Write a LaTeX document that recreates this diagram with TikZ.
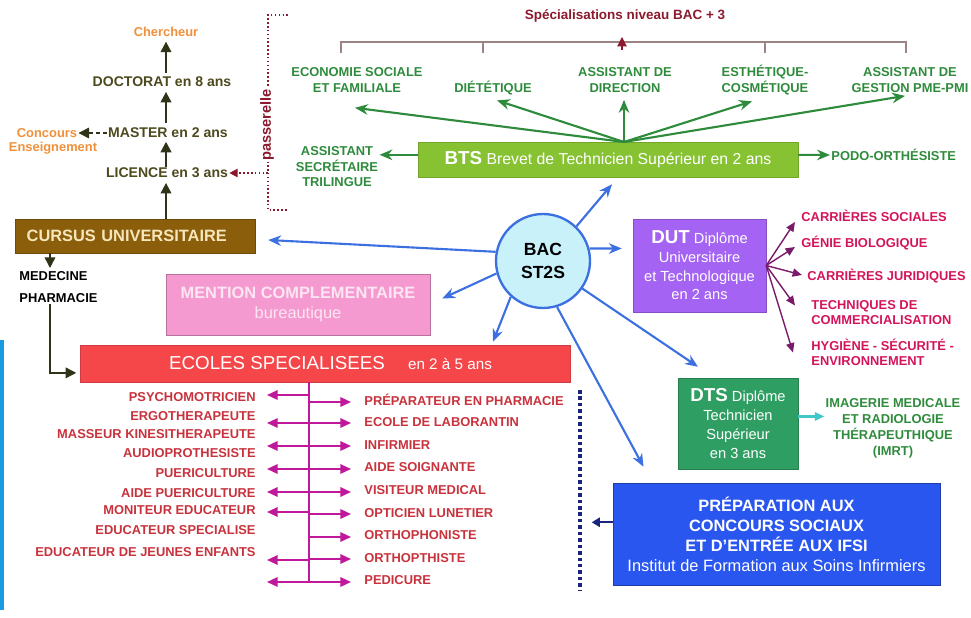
\documentclass[tikz,border=0pt]{standalone}
\usepackage{fontspec}
\setmainfont{Liberation Sans}
\usetikzlibrary{arrows.meta, positioning}
\definecolor{olivetxt}{HTML}{4D4A1E}
\definecolor{olivedark}{HTML}{2F3318}
\definecolor{orangetxt}{HTML}{F0903A}
\definecolor{darkred}{HTML}{8B1A2E}
\definecolor{brkgray}{HTML}{9C8484}
\definecolor{spgreen}{HTML}{2E8B3C}
\definecolor{btsgreen}{HTML}{86C232}
\definecolor{cursbrown}{HTML}{8B5E0B}
\definecolor{cursfont}{HTML}{F7E6BC}
\definecolor{mcpink}{HTML}{F59AD0}
\definecolor{mcfont}{HTML}{FCE6F2}
\definecolor{ecred}{HTML}{F5474A}
\definecolor{ecmag}{HTML}{C0189A}
\definecolor{ectxt}{HTML}{C8323C}
\definecolor{dutpurple}{HTML}{A463F2}
\definecolor{dutdark}{HTML}{7A1A6A}
\definecolor{duttxt}{HTML}{D4145A}
\definecolor{dtsgreen}{HTML}{2E9E62}
\definecolor{dtscyan}{HTML}{40C8C8}
\definecolor{prepblue}{HTML}{2A56F0}
\definecolor{bacfill}{HTML}{C9F1FA}
\definecolor{bacblue}{HTML}{3C6FE0}
\definecolor{navyblue}{HTML}{1A237E}
\definecolor{stripe}{HTML}{1A9BE0}
\tikzset{
  olivetext/.style={text=olivetxt, font=\bfseries\fontsize{12}{14}\selectfont, inner sep=1pt},
  orangetext/.style={text=orangetxt, font=\bfseries\fontsize{11}{13}\selectfont, inner sep=1pt},
  spec/.style={text=spgreen, font=\bfseries\fontsize{11}{13.5}\selectfont, align=center, inner sep=1pt},
  dutitem/.style={text=duttxt, font=\bfseries\fontsize{11}{13}\selectfont, align=left, anchor=west, inner sep=1pt},
  ecitem/.style={text=ectxt, font=\bfseries\fontsize{11}{13}\selectfont, inner sep=1pt},
  cursbox/.style={
    rectangle, draw=cursbrown!80!black, fill=cursbrown, text=cursfont,
    font=\bfseries\fontsize{14}{16}\selectfont, minimum height=1.02cm,
    inner xsep=0.35cm, text width=6.5cm, align=left
  },
  mcbox/.style={
    rectangle, draw=mcpink!75!black, fill=mcpink, text=mcfont,
    font=\fontsize{14}{17}\selectfont, minimum width=7.92cm, minimum height=1.83cm, align=center
  },
  ecbox/.style={
    rectangle, draw=ecred!85!black, fill=ecred, minimum width=14.7cm, minimum height=1.11cm
  },
  btsbox/.style={
    rectangle, draw=btsgreen!85!black, fill=btsgreen, text=white,
    font=\fontsize{13.5}{16}\selectfont, minimum width=11.4cm, minimum height=1.05cm
  },
  dutbox/.style={
    rectangle, draw=dutpurple!80!black, fill=dutpurple, text=white,
    font=\fontsize{12.5}{16}\selectfont, minimum width=3.99cm, minimum height=2.79cm, align=center
  },
  dtsbox/.style={
    rectangle, draw=dtsgreen!80!black, fill=dtsgreen, text=white,
    font=\fontsize{12.5}{16}\selectfont, minimum width=3.6cm, minimum height=2.73cm, align=center
  },
  prepbox/.style={
    rectangle, draw=prepblue!70!black, fill=prepblue, text=white,
    font=\fontsize{14}{17}\selectfont, minimum width=9.81cm, minimum height=3.06cm, align=center
  },
  bacnode/.style={
    circle, draw=bacblue, line width=2pt, fill=bacfill, minimum size=2.82cm,
    font=\bfseries\fontsize{15}{19}\selectfont, align=center, inner sep=0pt
  },
  bluearr/.style={-{Stealth[length=11pt,width=9pt]}, line width=1.8pt, color=bacblue},
  greenarr/.style={-{Stealth[length=11pt,width=9pt]}, line width=1.8pt, color=spgreen},
  olivearr/.style={-{Triangle[length=9pt,width=9pt]}, line width=1.8pt, color=olivedark},
  magarr/.style={-{Triangle[length=9pt,width=8pt]}, line width=1.5pt, color=ecmag},
  dutarr/.style={-{Triangle[length=8pt,width=7pt]}, line width=1.2pt, color=dutdark},
  cyanarr/.style={-{Triangle[length=8pt,width=7pt]}, line width=1.8pt, color=dtscyan}
}
\begin{document}
\begin{tikzpicture}[x=0.03cm, y=-0.03cm]
\useasboundingbox (0,0) rectangle (971,618);
\fill[stripe] (0,340) rectangle (4,610);

% cursus universitaire
\node[orangetext] (cherch) at (166,32) {Chercheur};
\node[olivetext] (doct) at (162,82) {DOCTORAT en 8 ans};
\node[olivetext] (mast) at (168,133) {MASTER en 2 ans};
\node[olivetext] (lic) at (167,173) {LICENCE en 3 ans};
\node[orangetext] (conc1) at (47,133) {Concours};
\node[orangetext] (conc2) at (53,148) {Enseignement};
\node[cursbox] (cursus) at (135,236) {CURSUS UNIVERSITAIRE};
\node[olivetext, text=black, font=\bfseries\fontsize{11}{19}\selectfont, align=left, anchor=west] (med) at (18,287) {MEDECINE\\PHARMACIE};
\draw[olivearr, shorten <=2pt, shorten >=3pt] (doct.north -| cherch) -- (cherch.south);
\draw[olivearr, shorten <=3pt, shorten >=3pt] (mast.north -| cherch) -- (doct.south -| cherch);
\draw[olivearr, shorten >=2pt] (lic.north -| cherch) -- (mast.south -| cherch);
\draw[olivearr, shorten >=3pt] (cursus.north -| cherch) -- (lic.south -| cherch);
\draw[olivearr, dashed, line width=1.3pt] (mast.west) -- (mast.west -| conc1.east);
\coordinate (medtop) at (50,253);
\draw[olivearr, line width=1.3pt] (medtop) -- ++(0,15);

% passerelle
\coordinate (pastop) at (268,15);
\coordinate (pasbot) at (268,210);
\draw[darkred, dotted, line width=1.3pt] ([xshift=17pt]pastop) -- (pastop) -- (pasbot) -- ([xshift=17pt]pasbot);
\node[rotate=90, fill=white, text=darkred, font=\bfseries\fontsize{12.5}{13}\selectfont, inner sep=1pt] (pass) at (267,125) {passerelle};
\draw[darkred, dotted, line width=1.3pt, -{Triangle[length=7pt,width=7pt]}] (lic.east -| pastop) -- (lic.east);

% specialisations BTS
\node[font=\bfseries\fontsize{11.5}{13}\selectfont, text=darkred] (spectitle) at (625,16) {Spécialisations niveau BAC + 3};
\draw[brkgray, line width=1pt] (341,53) -- (341,42) -- (906,42) -- (906,53);
\foreach \x in {483,765} \draw[brkgray, line width=1pt] (\x,42) -- (\x,53);
\draw[darkred, line width=1pt, -{Triangle[length=8pt,width=8pt]}] (622,50) -- (622,37);
\node[spec] (eco) at (357,80) {ECONOMIE SOCIALE\\ET FAMILIALE};
\node[spec] (diet) at (493,88) {DIÉTÉTIQUE};
\node[spec] (dir) at (625,80) {ASSISTANT DE\\DIRECTION};
\node[spec] (esth) at (765,80) {ESTHÉTIQUE-\\COSMÉTIQUE};
\node[spec] (gest) at (910,80) {ASSISTANT DE\\GESTION PME-PMI};
\node[spec, font=\bfseries\fontsize{11}{13.2}\selectfont] (sec) at (337,167) {ASSISTANT\\SECRÉTAIRE\\TRILINGUE};
\node[spec, anchor=west] (podo) at (830,155) {PODO-ORTHÉSISTE};
\node[btsbox] (bts) at (608,159.5) {{\bfseries\fontsize{16}{16}\selectfont BTS} Brevet de Technicien Supérieur en 2 ans};
\coordinate (btstop) at (624,142);
\draw[greenarr] (btstop) -- ([shift={(-2,14)}]eco.south);
\draw[greenarr] (btstop) -- ([shift={(4,4)}]diet.south);
\draw[greenarr] (btstop) -- ([shift={(-1,6)}]dir.south);
\draw[greenarr] (btstop) -- ([shift={(-13,5)}]esth.south);
\draw[greenarr] (btstop) -- ([shift={(-5,2)}]gest.south);
\draw[greenarr] ([yshift=4pt]bts.west) -- ([yshift=4pt]bts.west -| sec.east);
\draw[greenarr] ([yshift=4pt]bts.east) -- (podo.west);

% bac
\node[bacnode] (bac) at (543,261) {BAC\\ST2S};
\node[mcbox] (mc) at (298,304.5) {\textbf{MENTION COMPLEMENTAIRE}\\bureautique};
\node[ecbox] (ecbox) at (325,363.5) {};
\node[text=white, font=\fontsize{16}{18}\selectfont, inner sep=0pt] (ectitle) at (277,363) {ECOLES SPECIALISEES};
\node[text=white, font=\fontsize{13}{15}\selectfont, inner sep=0pt] (ecyrs) at (450,364) {en 2 à 5 ans};
\draw[olivearr, line width=1.3pt, shorten >=3pt] (med.south -| medtop) |- ([yshift=-8pt]ecbox.west);
\node[dutbox] (dut) at (699.5,265.5) {{\bfseries\fontsize{16}{16}\selectfont DUT} Diplôme\\Universitaire\\et Technologique\\en 2 ans};
\node[dtsbox] (dts) at (738,423.5) {{\bfseries\fontsize{16}{16}\selectfont DTS} Diplôme\\Technicien\\Supérieur\\en 3 ans};
\node[prepbox] (prep) at (776.5,534) {\textbf{PRÉPARATION AUX}\\\textbf{CONCOURS SOCIAUX}\\\textbf{ET D’ENTRÉE AUX IFSI}\\Institut de Formation aux Soins Infirmiers};
\draw[bluearr] (bac.46) -- ([shift={(4,7)}]bts.south);
\draw[bluearr] (bac.15) -- ([shift={(-11,-17)}]dut.west);
\draw[bluearr] (bac.169) -- ([shift={(13,4)}]cursus.east);
\draw[bluearr] (bac.195) -- ([shift={(12,-6)}]mc.east);
\draw[bluearr] (bac.228) -- ([shift={(168,-3)}]ecbox.north);
\draw[bluearr] (bac.287) -- ([shift={(-133,-16)}]prep.north);
\draw[bluearr] (bac.325) -- ([shift={(-40,-11)}]dts.north);

% DUT
\node[dutitem] (cs) at (800,216) {CARRIÈRES SOCIALES};
\node[dutitem] (gb) at (800,243) {GÉNIE BIOLOGIQUE};
\node[dutitem] (cj) at (806,276) {CARRIÈRES JURIDIQUES};
\node[dutitem] (tc) at (810,312.5) {TECHNIQUES DE\\COMMERCIALISATION};
\node[dutitem] (hse) at (810,352.5) {HYGIÈNE - SÉCURITÉ -\\ENVIRONNEMENT};
\draw[dutarr] (dut.east) -- ([shift={(-5,6)}]cs.west);
\draw[dutarr] (dut.east) -- ([shift={(-5,4)}]gb.west);
\draw[dutarr] (dut.east) -- ([shift={(-4,-1)}]cj.west);
\draw[dutarr] (dut.east) -- ([shift={(-15,-7)}]tc.west);
\draw[dutarr] (dut.east) -- ([shift={(-17,0)}]hse.west);

% DTS
\node[spec, font=\bfseries\fontsize{11}{13.5}\selectfont] (imrt) at (893,428.5) {IMAGERIE MEDICALE\\ET RADIOLOGIE\\THÉRAPEUTHIQUE\\(IMRT)};
\draw[cyanarr] ([yshift=6pt]dts.east) -- ([yshift=6pt]dts.east -| imrt.west);

% ecoles specialisees
\foreach \t/\y [count=\i] in {PSYCHOMOTRICIEN/397, ERGOTHERAPEUTE/416, MASSEUR KINESITHERAPEUTE/434,
  AUDIOPROTHESISTE/453, PUERICULTURE/473, AIDE PUERICULTURE/493, MONITEUR EDUCATEUR/510,
  EDUCATEUR SPECIALISE/530, EDUCATEUR DE JEUNES ENFANTS/552}
  \node[ecitem, anchor=east] (l\i) at (257,\y) {\t};
\foreach \t/\y [count=\i] in {PRÉPARATEUR EN PHARMACIE/400, ECOLE DE LABORANTIN/422, INFIRMIER/445,
  AIDE SOIGNANTE/467, VISITEUR MEDICAL/490, OPTICIEN LUNETIER/513, ORTHOPHONISTE/535,
  ORTHOPTHISTE/558, PEDICURE/580}
  \node[ecitem, anchor=west] (r\i) at (363,\y) {\t};
\coordinate (trunk) at (309,582);
\draw[ecmag, line width=1.5pt] (ecbox.south -| trunk) -- (trunk);
\foreach \y in {395,423,446,469,492,512,560,582}
  \draw[magarr] (trunk |- 0,\y) -- ++(-42,0);
\foreach \y in {402,423,446,469,492,514,537,559,582}
  \draw[magarr] (trunk |- 0,\y) -- ++(42,0);

% concours
\coordinate (dl1) at (580,390);
\coordinate (dl2) at (580,590);
\draw[navyblue, line width=3pt, dash pattern=on 3pt off 2.5pt] (dl1) -- (dl2);
\draw[navyblue, line width=1.6pt, -{Triangle[length=7pt,width=8pt]}, shorten >=10pt] ([yshift=10pt]prep.west) -- ([yshift=10pt]prep.west -| dl1);
\end{tikzpicture}
\end{document}
